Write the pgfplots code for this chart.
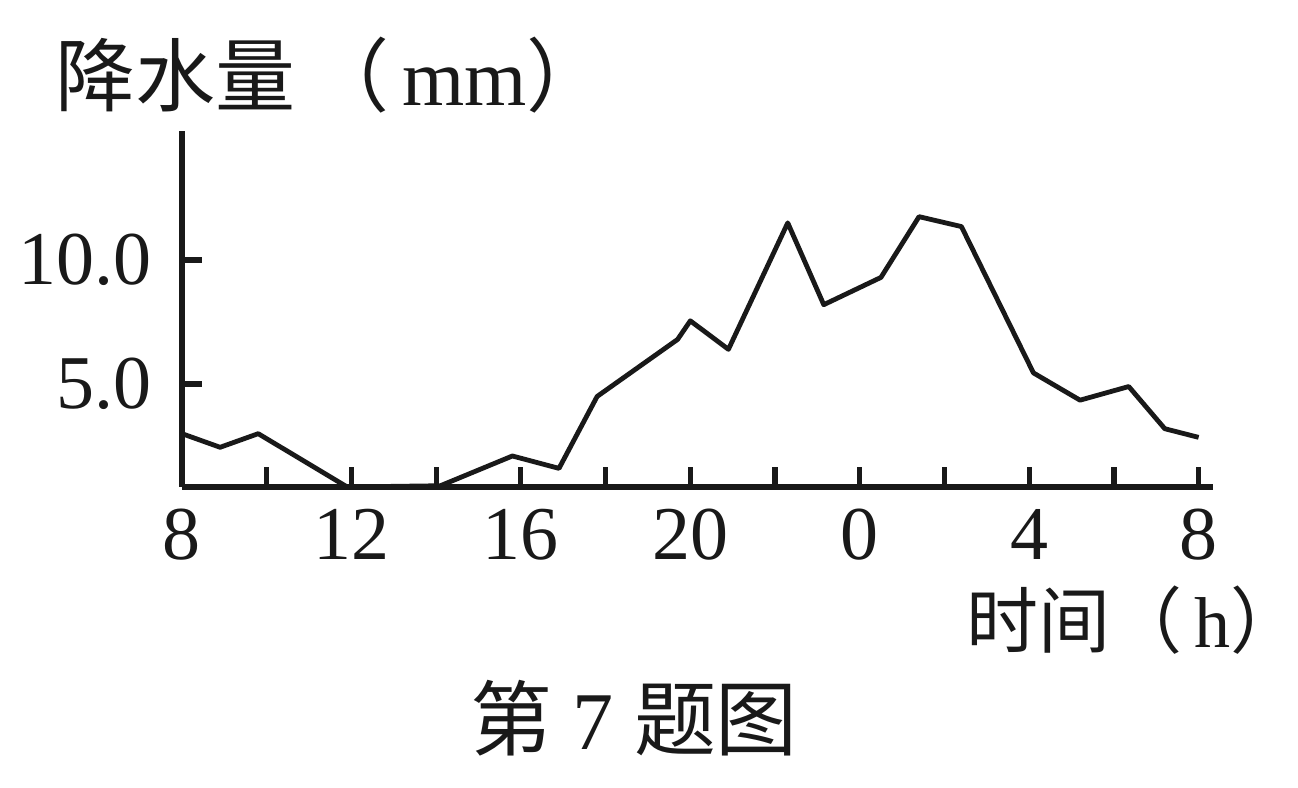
\documentclass[border=0pt]{standalone}
\usepackage{fontspec}
\setmainfont{Liberation Serif}
\newfontfamily\cjk{Noto Sans CJK SC}
\usepackage{pgfplots}
\pgfplotsset{compat=1.18}
\definecolor{ink}{RGB}{25,25,25}
\begin{document}
\begin{tikzpicture}
\path[use as bounding box] (-45.5pt,-75.25pt) rectangle (279pt,121.75pt);
\begin{axis}[
  at={(0,0)}, anchor=south west,
  x=10.59pt, y=6.2pt,
  xmin=8, xmax=32.33, ymin=0.85, ymax=15.2,
  axis lines=left,
  axis line style={-, line width=1.5pt, ink},
  tick align=inside,
  major tick length=5pt,
  xtick={8,10,...,32},
  xticklabels={8,,12,,16,,20,,0,,4,,8},
  ytick={5,10},
  yticklabels={5.0,10.0},
  tick style={line width=1.3pt, ink},
  /pgf/number format/assume math mode=true,
  ticklabel style={font=\fontsize{19}{21}\selectfont, text=ink},
  xticklabel style={yshift=-2pt},
  yticklabel style={xshift=-4pt},
  clip=false,
]
\addplot[line width=1.2pt, ink, line join=round] coordinates {
(8.0,3.0) (8.9,2.45) (9.8,3.0) (11.9,0.85) (14.1,0.9) (15.8,2.1) (16.9,1.6)
(17.8,4.5) (19.7,6.8) (20.0,7.55) (20.9,6.4) (22.3,11.5) (23.15,8.2)
(24.5,9.3) (25.4,11.75) (26.4,11.35) (28.1,5.45) (29.2,4.35) (30.35,4.9)
(31.2,3.2) (32.0,2.85)
};
\end{axis}
\node[anchor=west, inner sep=0pt, text=ink] at (-31.75pt,103pt)
  {\fontsize{20}{22}\selectfont{\cjk 降水量\,（}\,mm{\cjk ）}};
\node[anchor=west, inner sep=0pt, text=ink] at (196pt,-33.25pt)
  {\fontsize{18}{20}\selectfont{\cjk 时间（}\,h{\cjk ）}};
\node[anchor=center, inner sep=0pt, text=ink] at (113pt,-57.75pt)
  {\fontsize{20.5}{23}\selectfont{\cjk 第}\ 7\ {\cjk 题图}};
\end{tikzpicture}
\end{document}
